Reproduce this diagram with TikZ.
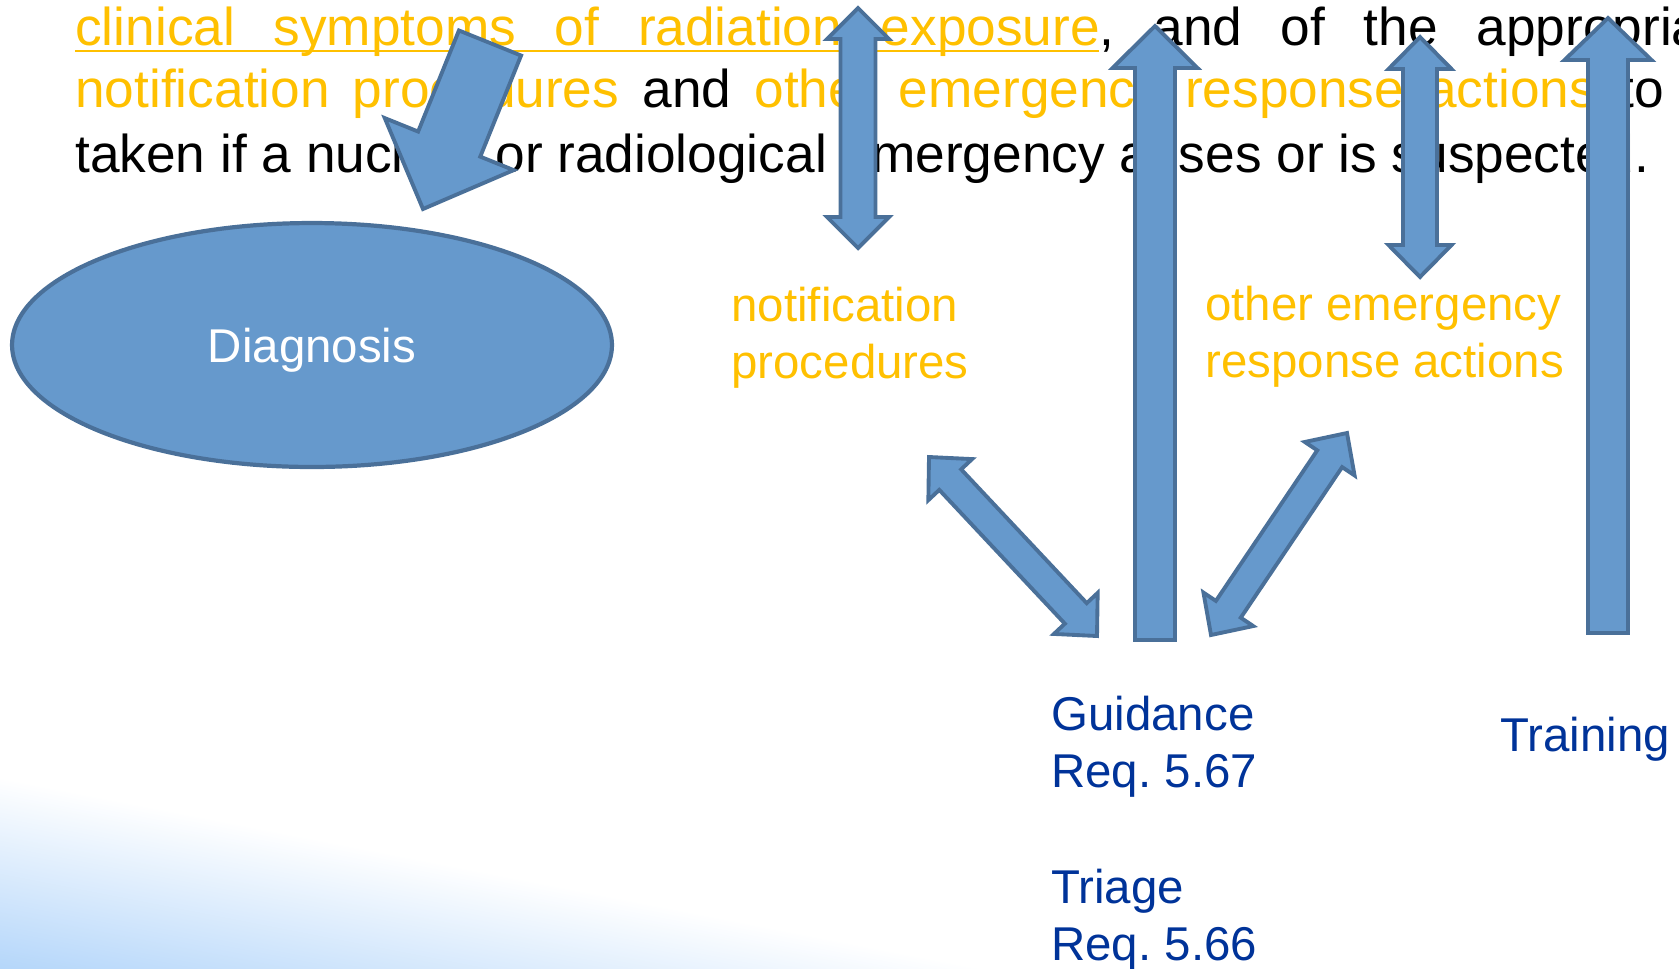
\documentclass[tikz,border=0pt]{standalone}
\usepackage{fontspec}
\setmainfont{Liberation Sans}
\usepackage{tikz}
\usetikzlibrary{calc,shapes.geometric}
\definecolor{figGold}{RGB}{255,192,0}
\definecolor{figNavy}{RGB}{0,51,153}
\definecolor{figArrow}{RGB}{102,153,204}
\definecolor{figArrowLine}{RGB}{74,112,153}
\definecolor{figSky}{RGB}{180,214,250}
\newcommand{\pxunit}{0.02cm}
\newcommand{\singlearrow}[5]{%
  \coordinate (#2-neck) at ($(#2)!#5*\pxunit!(#1)$);
  \draw[blockarrow] ($(#1)!#3*\pxunit!90:(#2)$) -- ($(#2-neck)!#3*\pxunit!90:(#2)$)
    -- ($(#2-neck)!#4*\pxunit!90:(#2)$) -- (#2)
    -- ($(#2-neck)!#4*\pxunit!-90:(#2)$) -- ($(#2-neck)!#3*\pxunit!-90:(#2)$)
    -- ($(#1)!#3*\pxunit!-90:(#2)$) -- cycle;
}
\newcommand{\doublearrow}[5]{%
  \coordinate (#1-neck) at ($(#1)!#5*\pxunit!(#2)$);
  \coordinate (#2-neck) at ($(#2)!#5*\pxunit!(#1)$);
  \draw[blockarrow] (#1) -- ($(#1-neck)!#4*\pxunit!90:(#2)$) -- ($(#1-neck)!#3*\pxunit!90:(#2)$)
    -- ($(#2-neck)!#3*\pxunit!90:(#2)$) -- ($(#2-neck)!#4*\pxunit!90:(#2)$) -- (#2)
    -- ($(#2-neck)!#4*\pxunit!-90:(#2)$) -- ($(#2-neck)!#3*\pxunit!-90:(#2)$)
    -- ($(#1-neck)!#3*\pxunit!-90:(#2)$) -- ($(#1-neck)!#4*\pxunit!-90:(#2)$) -- cycle;
}

\begin{document}
\frenchspacing
\begin{tikzpicture}[
  x=\pxunit,y=-\pxunit,
  font=\fontsize{30.3}{36}\selectfont,
  para/.style={anchor=base west,inner sep=0pt,text=black},
  note/.style={anchor=base west,inner sep=0pt,align=left,font=\fontsize{27}{32.4}\selectfont},
  goldnote/.style={note,text=figGold},
  navynote/.style={note,text=figNavy},
  oval/.style={ellipse,draw=figArrowLine,fill=figArrow,line width=2.4pt,text=white,text depth=0pt,minimum width=12cm,minimum height=4.88cm,font=\fontsize{27}{32.4}\selectfont},
  blockarrow/.style={draw=figArrowLine,fill=figArrow,line width=2.2pt,line join=miter},
  uline/.style={draw=figGold,line width=1.4pt}
]
\useasboundingbox (0,0) rectangle (1679,968);

\begin{scope}
  \clip (0,0) rectangle (1679,968);
  \begin{scope}[transform canvas={rotate around={-11:(0,777)}}]
    \shade[top color=white,bottom color=figSky] (-200,777) rectangle (1300,966);
  \end{scope}
\end{scope}

\node[para] (line1) at (75,45) {\makebox[33.42cm][s]{{\color{figGold}clinical symptoms of radiation exposure}, and of the appropriate}};
\node[para] (line2) at (75,107) {\makebox[33.42cm][s]{{\color{figGold}notification procedures} and {\color{figGold}other emergency response actions} to be}};
\node[para] (line3) at (75,172) {taken if a nuclear or radiological emergency arises or is suspected.};
\draw[uline] ($(line1.base west)+(0,6)$) -- ++(1024,0);

% multi-line notes sit on the baseline of their last line
\node[goldnote] (notif) at (731,378) {notification\\procedures};
\node[goldnote] (other) at (1205,377) {other emergency\\response actions};
\node[navynote] (guidance) at (1051,787) {Guidance\\Req. 5.67};
\node[navynote] (triage) at (1051,960) {Triage\\Req. 5.66};
\node[navynote] (training) at (1500,751) {Training};
\node[oval] (diag) at (312,345) {Diagnosis};

\coordinate (diagTail) at (490,43);
\coordinate (diagTip) at (423,209);
\coordinate (notifTop) at (858,8);
\coordinate (notifBot) at (858,248);
\coordinate (guideTail) at (1155,640);
\coordinate (guideTip) at (1155,26);
\coordinate (otherTop) at (1420,37);
\coordinate (otherBot) at (1420,277);
\coordinate (trainTail) at (1608,633);
\coordinate (trainTip) at (1608,18);
\coordinate (notifLink) at (929,457);
\coordinate (guideLinkL) at (1097,636);
\coordinate (guideLinkR) at (1211,635);
\coordinate (otherLink) at (1347,433);

\singlearrow{diagTail}{diagTip}{33.5}{69.5}{70}
\doublearrow{notifTop}{notifBot}{17.5}{31}{31}
\singlearrow{guideTail}{guideTip}{20}{42.5}{42}
\doublearrow{otherTop}{otherBot}{17}{31.5}{32}
\singlearrow{trainTail}{trainTip}{20}{43.5}{42}
\doublearrow{notifLink}{guideLinkL}{15}{30}{31}
\doublearrow{guideLinkR}{otherLink}{15}{30}{31}

\end{tikzpicture}
\end{document}
